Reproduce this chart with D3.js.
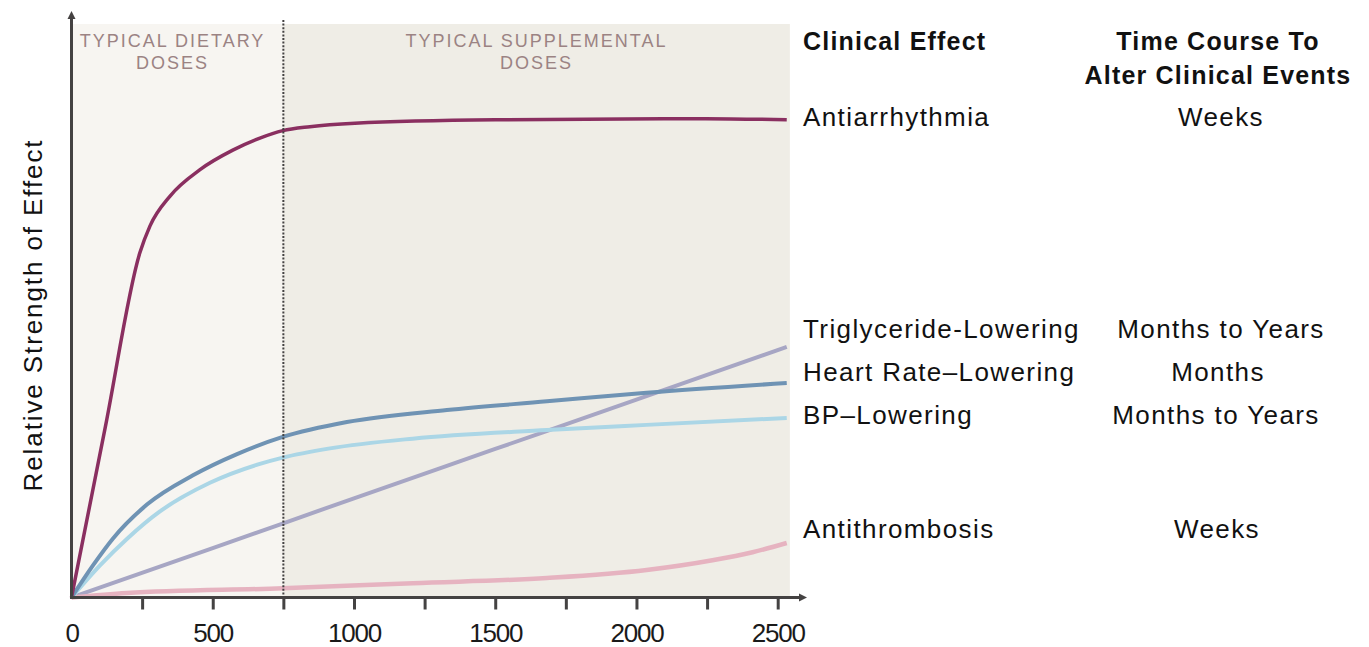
<!DOCTYPE html>
<html>
<head>
<meta charset="utf-8">
<script src="https://cdn.jsdelivr.net/npm/d3@7/dist/d3.min.js"></script>
<style>
  html, body { margin: 0; padding: 0; background: #ffffff; }
  svg { display: block; }
  text { font-family: "Liberation Sans", Arial, Helvetica, sans-serif; }
</style>
</head>
<body>
<svg id="chart" width="1369" height="647"></svg>
<script>
// ---- Data ----
const xTickMarks = [250, 500, 750, 1000, 1250, 1500, 1750, 2000, 2250, 2500];
const xTickLabels = [0, 500, 1000, 1500, 2000, 2500];
const doseBoundary = 750;

const antiarrhythmia = [
  [0, 0], [120, 29.8], [242, 60.1], [278, 64.8], [349, 70.0], [455, 74.6],
  [571, 78.0], [667, 80.1], [748, 81.4], [844, 82.1], [1003, 82.7],
  [1500, 83.3], [2245, 83.5], [2532, 83.3]
];
const heartRate = [
  [0, 0], [76, 5.6], [147, 10.3], [267, 16.2], [430, 21.3], [586, 25.0],
  [748, 28.0], [975, 30.6], [1329, 32.7], [1683, 34.2], [2036, 35.7], [2532, 37.4]
];
const bpLowering = [
  [0, 0], [101, 5.6], [196, 10.2], [313, 15.0], [490, 20.0], [667, 23.3],
  [748, 24.4], [915, 26.0], [1208, 27.7], [1683, 29.2], [2036, 30.1], [2532, 31.3]
];
const triglyceride = [
  [0, 0], [500, 8.6], [1000, 17.3], [1500, 25.9], [2000, 34.5], [2532, 43.7]
];
const antithrombosis = [
  [0, 0], [196, 0.8], [748, 1.6], [1208, 2.5], [1683, 3.4], [2036, 4.8],
  [2269, 6.5], [2411, 7.9], [2532, 9.5]
];

const effects = ["Antiarrhythmia", "Triglyceride-Lowering", "Heart Rate\u2013Lowering", "BP\u2013Lowering", "Antithrombosis"];
const timeCourses = ["Weeks", "Months to Years", "Months", "Months to Years", "Weeks"];
const regionLabels = [["TYPICAL DIETARY", "DOSES"], ["TYPICAL SUPPLEMENTAL", "DOSES"]];

// ---- Layout ----
const svg = d3.select("#chart");
const x = d3.scaleLinear().domain([0, 2500]).range([71.5, 777.7]);
const y = d3.scaleLinear().domain([0, 100]).range([597.5, 24]);
const xMax = 2543;
const axisColor = "#444242";

// background regions
svg.append("rect")
  .attr("x", x(0)).attr("y", y(100))
  .attr("width", x(doseBoundary) - x(0)).attr("height", y(0) - y(100))
  .attr("fill", "#f7f5f1");
svg.append("rect")
  .attr("x", x(doseBoundary)).attr("y", y(100))
  .attr("width", x(xMax) - x(doseBoundary)).attr("height", y(0) - y(100))
  .attr("fill", "#efede6");

// region labels
const regionCenters = [172.5, 536.5];
regionLabels.forEach((lines, i) => {
  lines.forEach((t, j) => {
    svg.append("text")
      .attr("x", regionCenters[i]).attr("y", 47 + j * 22)
      .attr("text-anchor", "middle")
      .attr("font-size", 18).attr("letter-spacing", 2)
      .attr("fill", "#9b8383")
      .text(t);
  });
});

// curves
const line = d3.line().x(d => x(d[0])).y(d => y(d[1])).curve(d3.curveMonotoneX);
const series = [
  { data: triglyceride, color: "#a7a6c4", w: 4 },
  { data: antithrombosis, color: "#e6b3c0", w: 4.5 },
  { data: bpLowering, color: "#abd6e6", w: 4 },
  { data: heartRate, color: "#6f93b4", w: 4 },
  { data: antiarrhythmia, color: "#8a2f60", w: 3.5 }
];
series.forEach(s => {
  svg.append("path")
    .attr("d", line(s.data))
    .attr("fill", "none")
    .attr("stroke", s.color)
    .attr("stroke-width", s.w)
    .attr("stroke-linecap", "butt");
});

// dotted boundary
svg.append("line")
  .attr("x1", x(doseBoundary)).attr("x2", x(doseBoundary))
  .attr("y1", 20).attr("y2", y(0))
  .attr("stroke", axisColor).attr("stroke-width", 2)
  .attr("stroke-dasharray", "2,1.6");

// x axis: tick marks
const tickAxis = d3.axisBottom(x).tickValues(xTickMarks).tickSize(12).tickFormat("");
const gT = svg.append("g").attr("transform", `translate(0,${y(0)})`).call(tickAxis);
gT.select(".domain").remove();
gT.selectAll(".tick line").attr("stroke", axisColor).attr("stroke-width", 3);

// x axis: labels
const labelAxis = d3.axisBottom(x).tickValues(xTickLabels).tickSize(0).tickPadding(0).tickFormat(d3.format("d"));
const gL = svg.append("g").attr("transform", `translate(0,${y(0)})`).call(labelAxis);
gL.select(".domain").remove();
gL.selectAll(".tick text")
  .attr("dy", null).attr("y", 44)
  .attr("font-size", 26).attr("letter-spacing", -1.2)
  .attr("font-family", "'Liberation Sans', Arial, sans-serif")
  .attr("fill", "#1a1a1a");

// axis lines with arrows
svg.append("line")
  .attr("x1", x(0)).attr("x2", 800).attr("y1", y(0)).attr("y2", y(0))
  .attr("stroke", axisColor).attr("stroke-width", 3);
svg.append("path")
  .attr("d", `M799,${y(0) - 4} L807,${y(0)} L799,${y(0) + 4} Z`)
  .attr("fill", axisColor);
svg.append("line")
  .attr("x1", x(0)).attr("x2", x(0)).attr("y1", y(0) + 1.5).attr("y2", 18)
  .attr("stroke", axisColor).attr("stroke-width", 3);
svg.append("path")
  .attr("d", `M${x(0) - 4},19 L${x(0)},11 L${x(0) + 4},19 Z`)
  .attr("fill", axisColor);

// y axis title
svg.append("text")
  .attr("transform", `translate(42,315) rotate(-90)`)
  .attr("text-anchor", "middle")
  .attr("font-size", 26).attr("letter-spacing", 1.9)
  .attr("fill", "#111")
  .text("Relative Strength of Effect");

// right-side table
const headerStyle = sel => sel.attr("font-size", 25).attr("font-weight", "bold")
  .attr("letter-spacing", 1.2).attr("fill", "#111");
svg.append("text").attr("x", 803).attr("y", 50).call(headerStyle).text("Clinical Effect");
svg.append("text").attr("x", 1218).attr("y", 50).attr("text-anchor", "middle")
  .call(headerStyle).text("Time Course To");
svg.append("text").attr("x", 1218).attr("y", 84).attr("text-anchor", "middle")
  .call(headerStyle).text("Alter Clinical Events");

const rowY = [126, 338, 381, 424, 538];
const tcX = [1221, 1221, 1218, 1216, 1217];
effects.forEach((e, i) => {
  svg.append("text")
    .attr("x", 803).attr("y", rowY[i])
    .attr("font-size", 26).attr("letter-spacing", 1.4)
    .attr("fill", "#111")
    .text(e);
  svg.append("text")
    .attr("x", tcX[i]).attr("y", rowY[i])
    .attr("text-anchor", "middle")
    .attr("font-size", 26).attr("letter-spacing", 1.4)
    .attr("fill", "#111")
    .text(timeCourses[i]);
});
</script>
</body>
</html>
